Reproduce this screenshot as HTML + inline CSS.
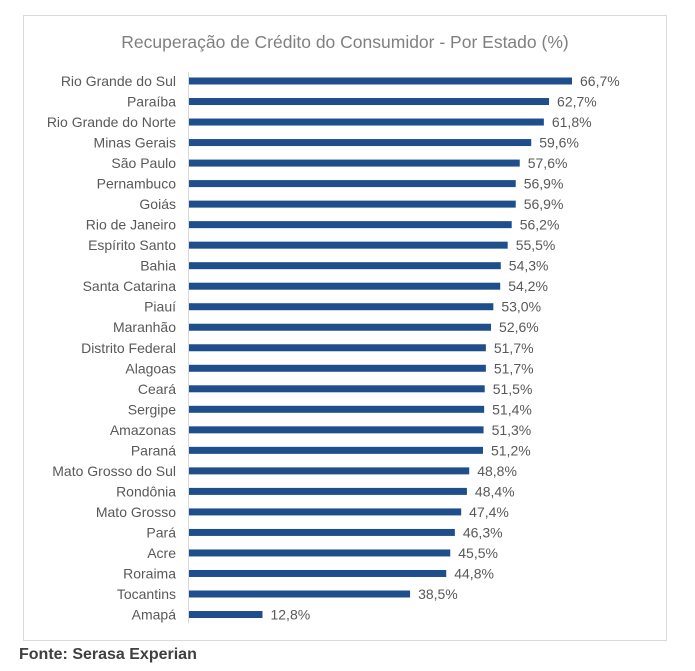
<!DOCTYPE html>
<html><head><meta charset="utf-8"><style>
body{margin:0;width:695px;height:671px;background:#fff;font-family:"Liberation Sans",sans-serif;position:relative;overflow:hidden}
#box{position:absolute;left:23px;top:15px;width:644px;height:626px;border:1px solid #d9d9d9;box-sizing:border-box}
#fonte{position:absolute;left:19px;top:646px;font-weight:bold;font-size:16px;color:#404040}
</style></head><body>
<div id="box"></div>
<svg id="chart" width="695" height="671" style="position:absolute;left:0;top:0">
<text x="345" y="48" text-anchor="middle" font-size="17.5" fill="#808080" font-family="Liberation Sans, sans-serif">Recuperação de Crédito do Consumidor - Por Estado (%)</text>
<line x1="188.5" y1="72" x2="188.5" y2="623" stroke="#d9d9d9"/>
</svg>
<div id="fonte">Fonte: Serasa Experian</div>
<script>
const categories=["Rio Grande do Sul","Paraíba","Rio Grande do Norte","Minas Gerais","São Paulo","Pernambuco","Goiás","Rio de Janeiro","Espírito Santo","Bahia","Santa Catarina","Piauí","Maranhão","Distrito Federal","Alagoas","Ceará","Sergipe","Amazonas","Paraná","Mato Grosso do Sul","Rondônia","Mato Grosso","Pará","Acre","Roraima","Tocantins","Amapá"];
const values=[66.7,62.7,61.8,59.6,57.6,56.9,56.9,56.2,55.5,54.3,54.2,53.0,52.6,51.7,51.7,51.5,51.4,51.3,51.2,48.8,48.4,47.4,46.3,45.5,44.8,38.5,12.8];
const valueLabels=values.map(v=>v.toFixed(1).replace('.',',')+'%');
const svg=document.getElementById('chart');
const NS='http://www.w3.org/2000/svg';
const x0=189,pxPer=(572-189)/66.7;
const xs=v=>x0+v*pxPer;
const yc=i=>81+i*20.52;
categories.forEach((c,i)=>{
  const r=document.createElementNS(NS,'rect');
  r.setAttribute('x',x0);r.setAttribute('y',yc(i)-3.5);
  r.setAttribute('width',xs(values[i])-x0);r.setAttribute('height',7);
  r.setAttribute('fill','#1f4e8c');
  
  
  svg.appendChild(r);
  const t=document.createElementNS(NS,'text');
  t.setAttribute('x',176);t.setAttribute('y',yc(i)+5);
  t.setAttribute('text-anchor','end');t.setAttribute('font-size','14');
  t.setAttribute('fill','#595959');t.setAttribute('font-family','Liberation Sans, sans-serif');
  t.textContent=c;
  
  
  svg.appendChild(t);
  const v=document.createElementNS(NS,'text');
  v.setAttribute('x',xs(values[i])+8);v.setAttribute('y',yc(i)+5);
  v.setAttribute('font-size','14');v.setAttribute('fill','#595959');
  v.setAttribute('font-family','Liberation Sans, sans-serif');
  v.textContent=valueLabels[i];
  
  
  svg.appendChild(v);
});
</script>
</body></html>
